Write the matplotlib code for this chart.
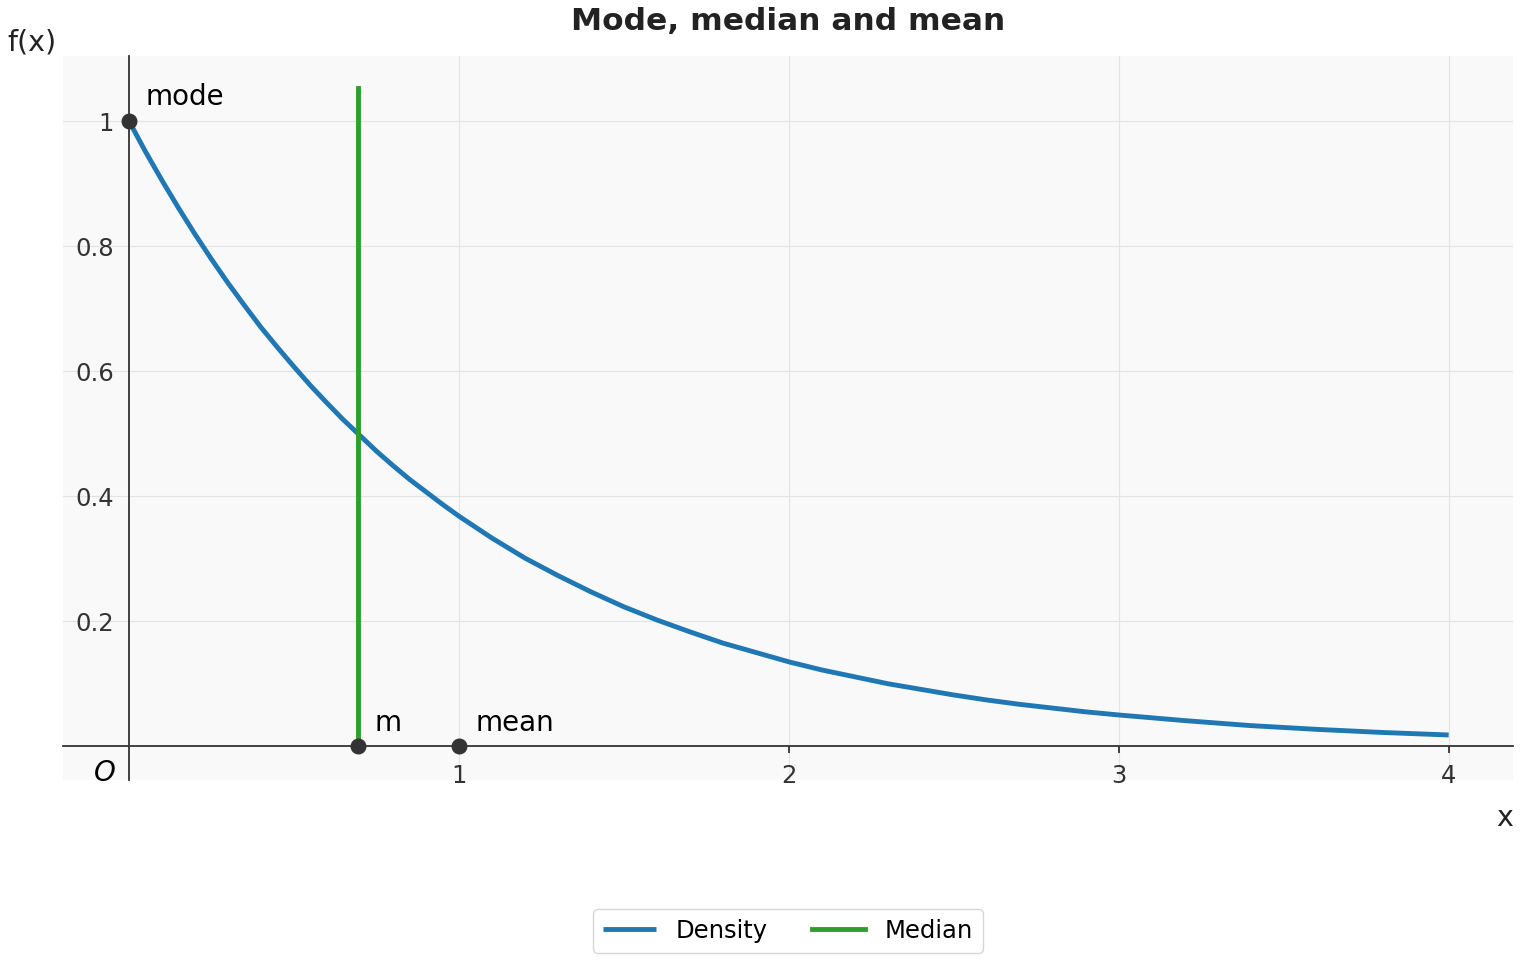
import matplotlib
matplotlib.use('Agg')
import matplotlib.pyplot as plt

# values
x_vals = [0.0, 0.05, 0.1, 0.15, 0.2, 0.25, 0.3, 0.35, 0.4, 0.45, 0.5,
          0.55, 0.6, 0.65, 0.7, 0.75, 0.8, 0.85, 0.9, 0.95, 1.0,
          1.1, 1.2, 1.3, 1.4, 1.5, 1.6, 1.7, 1.8, 1.9, 2.0,
          2.1, 2.2, 2.3, 2.4, 2.5, 2.6, 2.7, 2.8, 2.9, 3.0,
          3.2, 3.4, 3.6, 3.8, 4.0]
density = [1.0, 0.951, 0.905, 0.861, 0.819, 0.779, 0.741, 0.705, 0.670, 0.638, 0.607,
           0.577, 0.549, 0.522, 0.497, 0.472, 0.449, 0.427, 0.407, 0.387, 0.368,
           0.333, 0.301, 0.273, 0.247, 0.223, 0.202, 0.183, 0.165, 0.150, 0.135,
           0.122, 0.111, 0.100, 0.091, 0.082, 0.074, 0.067, 0.061, 0.055, 0.050,
           0.041, 0.033, 0.027, 0.022, 0.018]
median_x = 0.693
median_top = 1.053
mean_x = 1.0
mode_xy = (0.0, 1.0)
x_ticks = [1, 2, 3, 4]
y_ticks = [0.2, 0.4, 0.6, 0.8, 1.0]
y_ticklabels = ['0.2', '0.4', '0.6', '0.8', '1']

dark = '#333333'

fig = plt.figure(figsize=(15.2, 9.6), dpi=100)
ax = fig.add_axes([63 / 1520, 1 - 780 / 960, 1450 / 1520, 724 / 960])
ax.set_facecolor('#f9f9f9')

ax.plot(x_vals, density, color='#1f77b4', lw=3.5, label='Density', zorder=3,
        solid_joinstyle='round', solid_capstyle='butt')
ax.plot([median_x, median_x], [0, median_top], color='#2ca02c', lw=3.5, label='Median', zorder=3)

ax.scatter([mode_xy[0], median_x, mean_x], [mode_xy[1], 0, 0], s=110, color=dark, zorder=5, clip_on=False)
ax.annotate('mode', mode_xy, xytext=(12, 7), textcoords='offset points', fontsize=20, va='bottom')
ax.annotate('m', (median_x, 0), xytext=(12, 7), textcoords='offset points', fontsize=20, va='bottom')
ax.annotate('mean', (mean_x, 0), xytext=(12, 7), textcoords='offset points', fontsize=20, va='bottom')

ax.set_xlim(-0.2, 4.195)
ax.set_ylim(-0.054, 1.104)

for s in ['top', 'right']:
    ax.spines[s].set_visible(False)
ax.spines['left'].set_position(('data', 0))
ax.spines['bottom'].set_position(('data', 0))
ax.spines['left'].set_color(dark)
ax.spines['bottom'].set_color(dark)
ax.spines['left'].set_linewidth(1.3)
ax.spines['bottom'].set_linewidth(1.3)

ax.set_xticks(x_ticks)
ax.set_yticks(y_ticks)
ax.set_yticklabels(y_ticklabels)
ax.tick_params(axis='x', colors=dark, labelsize=17.5, length=5, width=1.3, pad=8)
ax.tick_params(axis='y', colors=dark, labelsize=17.5, length=0, pad=11)
ax.grid(True, color='#e3e3e3', lw=0.8)
ax.set_axisbelow(True)

ax.text(-0.04, -0.043, '$O$', ha='right', va='center', fontsize=20, color='black')
fig.text(32 / 1520, 1 - 42 / 960, 'f(x)', ha='center', va='center', fontsize=20.5, color='#222222')
fig.text(1505 / 1520, 1 - 818 / 960, 'x', ha='center', va='center', fontsize=20.5, color='#222222')
fig.text(788 / 1520, 1 - 21 / 960, 'Mode, median and mean', ha='center', va='center',
         fontsize=22.5, fontweight='bold', color='#222222')

fig.legend(loc='center', bbox_to_anchor=(788 / 1520, 1 - 931 / 960), ncol=2, fontsize=17.5,
           frameon=True, edgecolor='#cccccc', handlelength=2.2, columnspacing=1.8)

fig.savefig('out.png', dpi=100)
